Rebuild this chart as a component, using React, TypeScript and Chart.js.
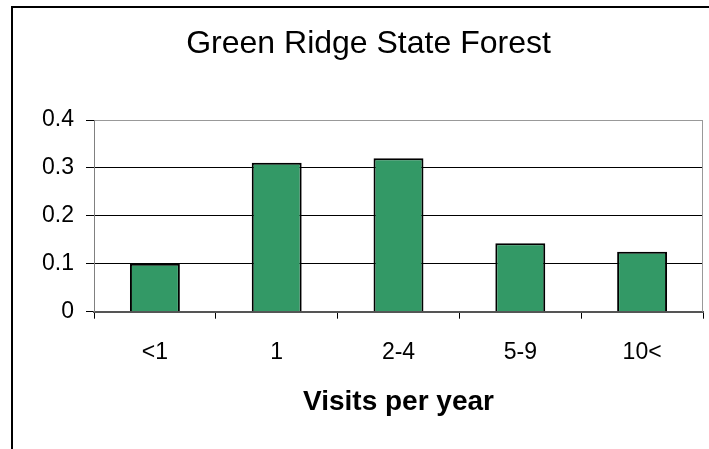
import React, { useEffect, useRef } from "react";
import { Chart, registerables } from "chart.js";

Chart.register(...registerables);

const chartTitle = "Green Ridge State Forest";
const xAxisTitle = "Visits per year";
const categories = ["<1", "1", "2-4", "5-9", "10<"];
const shares = [0.1, 0.311, 0.32, 0.143, 0.125];
const yTickLabels = ["0", "0.1", "0.2", "0.3", "0.4"];
const yMin = 0;
const yMax = 0.4;
const yStep = 0.1;

const FONT = "'Liberation Sans', Arial, Helvetica, sans-serif";

const framePlugin = {
  id: "frame",
  beforeDraw(chart: any) {
    const ctx = chart.ctx;
    ctx.save();
    ctx.fillStyle = "#ffffff";
    ctx.fillRect(0, 0, chart.width, chart.height);
    ctx.strokeStyle = "#000000";
    ctx.lineWidth = 2;
    ctx.beginPath();
    ctx.moveTo(12, chart.height + 5);
    ctx.lineTo(12, 7);
    ctx.lineTo(chart.width + 5, 7);
    ctx.stroke();
    ctx.restore();
  },
  afterDraw(chart: any) {
    const { ctx, chartArea } = chart;
    ctx.save();
    ctx.strokeStyle = "#999999";
    ctx.lineWidth = 1;
    const x = Math.round(chartArea.right) - 0.5;
    ctx.beginPath();
    ctx.moveTo(x, chartArea.top);
    ctx.lineTo(x, chartArea.bottom);
    ctx.stroke();
    ctx.restore();
  },
};

export default function App() {
  const canvasRef = useRef<HTMLCanvasElement | null>(null);

  useEffect(() => {
    if (!canvasRef.current) return;
    const chart = new Chart(canvasRef.current, {
      type: "bar",
      data: {
        labels: categories,
        datasets: [
          {
            data: shares,
            backgroundColor: "#339966",
            borderColor: "#000000",
            borderWidth: 2,
            categoryPercentage: 1,
            barPercentage: 0.41,
          },
        ],
      },
      plugins: [framePlugin],
      options: {
        animation: false,
        responsive: true,
        maintainAspectRatio: false,
        layout: { padding: { left: 34, right: 6, top: 0, bottom: 0 } },
        plugins: {
          legend: { display: false },
          tooltip: { enabled: false },
          title: {
            display: true,
            text: chartTitle,
            color: "#000000",
            font: { family: FONT, size: 32, weight: "normal", lineHeight: 1.2 },
            padding: { top: 25, bottom: 56.6 },
          },
        },
        scales: {
          x: {
            offset: true,
            grid: {
              offset: true,
              drawOnChartArea: false,
              drawTicks: true,
              tickLength: 7,
              tickColor: "#000000",
              color: "#000000",
            },
            border: { display: true, color: "#555555", width: 2 },
            ticks: {
              color: "#000000",
              padding: 20,
              font: { family: FONT, size: 23 },
              maxRotation: 0,
            },
            title: {
              display: true,
              text: xAxisTitle,
              color: "#000000",
              font: { family: FONT, size: 28, weight: "bold", lineHeight: 1.2 },
              padding: { top: 0, bottom: 30.2 },
            },
            afterFit(scale: any) {
              scale.height = 137.3;
            },
          },
          y: {
            min: yMin,
            max: yMax,
            grid: {
              color: (c: any) => (c.tick && Math.abs(c.tick.value - yMax) < 1e-9 ? "#999999" : "#000000"),
              tickColor: "#000000",
              tickLength: 8,
              lineWidth: 1,
            },
            border: { display: true, color: "#808080", width: 1 },
            ticks: {
              stepSize: yStep,
              color: "#000000",
              padding: 12,
              font: { family: FONT, size: 23 },
              callback: (_v: any, i: number) => yTickLabels[i],
            },
            afterFit(scale: any) {
              scale.width = 60;
            },
          },
        },
      },
    } as any);
    return () => chart.destroy();
  }, []);

  return (
    <div style={{ position: "absolute", left: 0, top: 0, width: 709, height: 449, background: "#fff" }}>
      <canvas ref={canvasRef} />
    </div>
  );
}
